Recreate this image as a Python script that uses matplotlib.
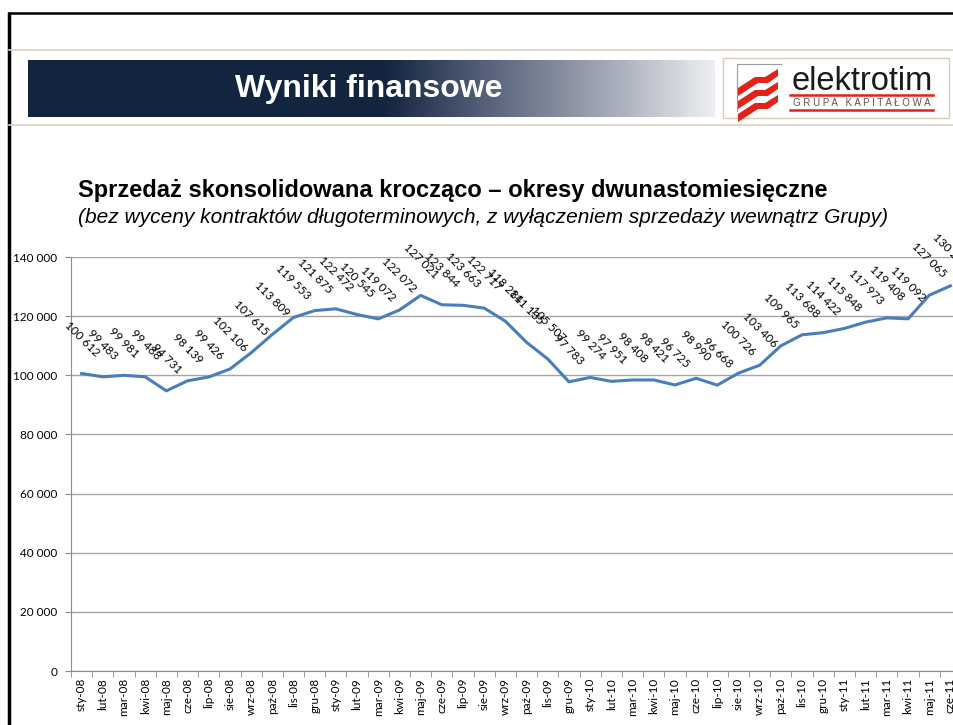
import matplotlib.pyplot as plt
import numpy as np
from matplotlib.colors import LinearSegmentedColormap
from matplotlib.patches import Rectangle, Polygon

# miesiace (etykiety osi X)
months = ['sty-08', 'lut-08', 'mar-08', 'kwi-08', 'maj-08', 'cze-08', 'lip-08', 'sie-08',
          'wrz-08', 'paź-08', 'lis-08', 'gru-08',
          'sty-09', 'lut-09', 'mar-09', 'kwi-09', 'maj-09', 'cze-09', 'lip-09', 'sie-09',
          'wrz-09', 'paź-09', 'lis-09', 'gru-09',
          'sty-10', 'lut-10', 'mar-10', 'kwi-10', 'maj-10', 'cze-10', 'lip-10', 'sie-10',
          'wrz-10', 'paź-10', 'lis-10', 'gru-10',
          'sty-11', 'lut-11', 'mar-11', 'kwi-11', 'maj-11', 'cze-11']

# sprzedaz kroczaca 12m (tys. zl)
sales = [100612, 99483, 99981, 99488, 94731, 98139, 99426, 102106,
         107615, 113809, 119553, 121875,
         122472, 120545, 119072, 122072, 127021, 123844, 123663, 122717,
         118284, 111135, 105507, 97783,
         99274, 97951, 98408, 98421, 96725, 98990, 96668, 100726,
         103406, 109965, 113688, 114422,
         115848, 117973, 119408, 119092, 127065, 130245]

yticks = [0, 20000, 40000, 60000, 80000, 100000, 120000, 140000]

W, H = 954, 725
fig = plt.figure(figsize=(W / 100, H / 100), dpi=100)

# --- naglowek slajdu (w pikselach) ---
deco = fig.add_axes([0, 0, 1, 1], zorder=0)
deco.set_xlim(0, W)
deco.set_ylim(H, 0)
deco.axis('off')

deco.plot([8, W], [13, 13], color='black', lw=1.8, solid_capstyle='butt')
deco.plot([9, 9], [12, H], color='black', lw=2.5, solid_capstyle='butt')
deco.plot([9, W], [50, 50], color='#d8d2bc', lw=1.2)
deco.plot([9, W], [125, 125], color='#d8d2bc', lw=1.2)

cmap = LinearSegmentedColormap.from_list('hdr', [(0, '#13243f'), (0.52, '#13243f'),
                                                 (0.64, '#4a5670'), (0.86, '#a9afbb'),
                                                 (1, '#eceef1')])
grad = np.linspace(0, 1, 400).reshape(1, -1)
deco.imshow(grad, cmap=cmap, extent=[28, 715, 117, 60], aspect='auto', zorder=1)
deco.text(369, 89, 'Wyniki finansowe', color='white', fontsize=23, fontweight='bold',
          family='Liberation Sans', ha='center', va='center', zorder=2)

# logo
deco.add_patch(Rectangle((723, 58), 226, 60, facecolor='white', edgecolor='#d8d0b4', lw=1, zorder=2))
deco.plot([737, 737, 781], [111, 64, 64], color='#9a9a9a', lw=0.8, zorder=3)
for d in (0, 13, 26):
    deco.add_patch(Polygon([(738, 88 + d), (755, 77 + d), (765, 77 + d), (778, 69 + d),
                            (778, 76 + d), (768, 83 + d), (758, 83 + d), (738, 96 + d)],
                           closed=True, facecolor='#e2231a', edgecolor='none', zorder=3))
deco.text(862, 90, 'elektrotim', color='#1a1a1a', fontsize=23.5, family='Liberation Sans',
          ha='center', va='baseline', zorder=3)
deco.plot([790, 933], [95, 95], color='#e2231a', lw=1.8, zorder=3)
deco.text(862, 103, 'G R U P A   K A P I T A Ł O W A', color='#555555', fontsize=7,
          family='Liberation Sans', ha='center', va='center', zorder=3)
deco.plot([790, 933], [110, 110], color='#e2231a', lw=1.8, zorder=3)

deco.text(78, 190, 'Sprzedaż skonsolidowana krocząco – okresy dwunastomiesięczne',
          fontsize=17, fontweight='bold', family='Liberation Sans', va='center', zorder=3)
deco.text(78, 217, '(bez wyceny kontraktów długoterminowych, z wyłączeniem sprzedaży wewnątrz Grupy)',
          fontsize=15, style='italic', family='Liberation Sans', va='center', zorder=3)

# --- wykres ---
ax = fig.add_axes([71 / W, (H - 671) / H, 890 / W, (671 - 257) / H], zorder=2)
ax.patch.set_alpha(0)
x = np.arange(len(months))
ax.plot(x, sales, color='#4a7ebb', lw=2.2, solid_joinstyle='round', zorder=3)

for xi, v in zip(x, sales):
    lbl = f'{v:,}'.replace(',', ' ')
    ax.annotate(lbl, (xi, v), xytext=(0, 11), textcoords='offset points',
                rotation=-45, ha='center', va='bottom', fontsize=8.5,
                family='Lato', color='black', zorder=4)

ax.set_xlim(-0.5, len(months) - 0.5)
ax.set_ylim(0, 140000)
ax.set_yticks(yticks)
ax.set_yticklabels([f'{t:,}'.replace(',', ' ') for t in yticks], family='Lato', fontsize=8.5)
ax.yaxis.grid(True, color='#a6a6a6', lw=1)
ax.set_axisbelow(True)

ax.set_xticks(x)
ax.set_xticklabels(months, rotation=90, family='Lato', fontsize=8.5)
ax.set_xticks(np.arange(-0.5, len(months)), minor=True)
ax.tick_params(axis='x', which='major', length=0, pad=5)
ax.tick_params(axis='x', which='minor', length=4, color='#8c8c8c')
ax.tick_params(axis='y', length=4, color='#8c8c8c', pad=6)

for s in ('top', 'right'):
    ax.spines[s].set_visible(False)
ax.spines['left'].set_color('#8c8c8c')
ax.spines['bottom'].set_color('#8c8c8c')

fig.savefig('out.png', dpi=100)
